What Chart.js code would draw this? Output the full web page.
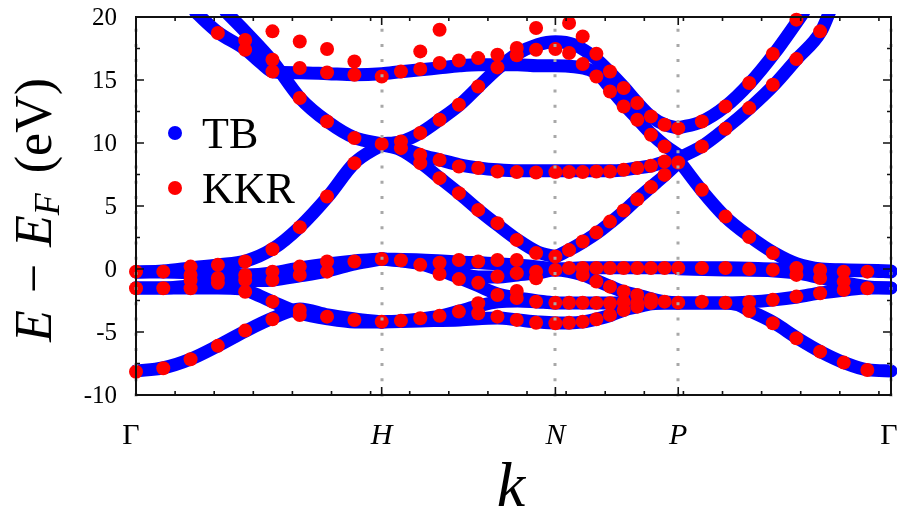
<!DOCTYPE html>
<html>
<head>
<meta charset="utf-8">
<script src="https://cdn.jsdelivr.net/npm/chart.js@4"></script>
<style>
  html, body { margin: 0; padding: 0; background: #fff; }
</style>
</head>
<body>
<canvas id="bands" width="898" height="517"></canvas>
<script>
// ── Path and axes ────────────────────────────────────────────────────────────
// k in units of 1/a along Γ–H–N–P–Γ of the bcc zone
const kPoints = [0, 3.1416, 5.3630, 6.9338, 9.6545];
const kLabels = ["Γ", "H", "N", "P", "Γ"];
const yTicks  = [-10, -5, 0, 5, 10, 15, 20];

// ── TB bands: [k, E] ─────────────────────────────────────────────────────────
// Γ–H
const tbGH1 = [[0,-8.09],[0.345,-7.85],[0.702,-7.14],[1.047,-6.10],[1.405,-4.91],[1.750,-3.89],[2.094,-3.17],[2.452,-3.65],[2.797,-3.96],[3.142,-4.20]];
const tbGH2 = [[0,-1.50],[0.345,-1.50],[0.702,-1.50],[1.047,-1.50],[1.328,-1.58],[1.584,-2.14],[1.750,-2.61],[2.094,-3.49],[2.452,-3.96],[2.797,-4.20],[3.142,-4.20]];
const tbGH3 = [[0,-0.23],[0.345,-0.23],[0.702,-0.31],[1.047,-0.47],[1.405,-0.47],[1.750,-0.31],[2.094,0.09],[2.452,0.41],[2.797,0.64],[3.142,0.80]];
const tbGH4 = [[0,-1.50],[0.345,-1.50],[0.702,-1.34],[1.047,-1.18],[1.405,-0.95],[1.750,-0.87],[2.094,-0.55],[2.452,-0.15],[2.797,0.41],[3.142,0.80]];
const tbGH5 = [[0,-0.23],[0.345,-0.15],[0.702,0.09],[1.047,0.33],[1.405,0.64],[1.750,1.60],[2.094,3.34],[2.452,5.73],[2.797,8.43],[3.142,9.86]];
const tbGH6 = [[1.15,20.4],[1.405,18.79],[1.750,16.45],[2.094,13.59],[2.452,11.68],[2.797,10.41],[3.142,9.94]];
// upper band, runs Γ–H–N–P
const tbTop1 = [[0.76,20.4],[1.047,18.79],[1.405,17.40],[1.609,16.29],[1.750,15.66],[2.094,15.58],[2.452,15.50],[2.797,15.42],[3.142,15.50],[3.384,15.66],[3.640,15.81],[3.882,15.97],[4.138,16.13],[4.380,16.21],[4.623,16.21],[4.879,16.21],[5.134,16.13],[5.363,16.13],[5.606,16.05],[5.798,15.81],[5.926,15.34],[6.079,14.23],[6.245,13.03],[6.411,11.92],[6.590,10.73],[6.769,9.78],[6.934,9.06]];
// H–N–P
const tbArch = [[3.142,9.94],[3.384,10.10],[3.640,10.81],[3.882,11.84],[4.138,13.03],[4.380,14.47],[4.623,15.89],[4.879,17.09],[5.134,17.80],[5.363,18.04],[5.606,17.80],[5.798,17.09],[5.926,16.45],[6.079,15.50],[6.245,14.39],[6.411,13.19],[6.590,12.08],[6.769,11.44],[6.934,11.20]];
const tbFlat = [[3.142,9.86],[3.384,9.62],[3.640,9.06],[3.882,8.67],[4.138,8.27],[4.380,8.03],[4.623,7.87],[4.879,7.79],[5.134,7.79],[5.363,7.79],[5.721,7.79],[6.079,7.79],[6.245,7.87],[6.411,8.03],[6.590,8.19],[6.769,8.51],[6.934,8.67]];
const tbHN1 = [[3.142,9.86],[3.384,9.46],[3.640,8.43],[3.882,7.24],[4.138,5.97],[4.380,4.69],[4.623,3.50],[4.879,2.31],[5.134,1.36],[5.363,0.96]];
const tbHN2 = [[3.142,0.80],[3.640,0.48],[3.882,0.09],[4.138,-0.31],[4.380,-0.63],[4.623,-0.63],[4.879,-0.47],[5.134,-0.31],[5.363,-0.07],[5.721,-0.47],[5.900,-0.95],[6.079,-1.42],[6.245,-1.82],[6.411,-2.06],[6.590,-2.37],[6.769,-2.61],[6.934,-2.69]];
const tbHN3 = [[3.142,0.80],[3.640,0.41],[3.882,-0.07],[4.138,-0.71],[4.380,-1.34],[4.623,-1.98],[4.879,-2.30],[5.134,-2.53],[5.363,-2.69]];
const tbHN4 = [[3.142,-4.20],[3.384,-4.12],[3.640,-3.96],[3.882,-3.73],[4.138,-3.33],[4.380,-2.93],[4.623,-2.61],[4.879,-2.53],[5.134,-2.61],[5.363,-2.69],[5.721,-2.69],[6.245,-2.69],[6.934,-2.69]];
const tbHN5 = [[3.142,-4.20],[3.640,-4.12],[4.138,-4.04],[4.623,-3.89],[4.879,-4.04],[5.134,-4.20],[5.363,-4.28],[5.543,-4.28],[5.721,-4.20],[5.900,-3.96],[6.079,-3.65],[6.245,-3.25],[6.411,-3.01],[6.590,-2.77],[6.769,-2.69],[6.934,-2.69]];
// flat band near E_F, H–N–P–Γ
const tbFermi = [[3.142,0.80],[3.640,0.72],[4.138,0.56],[4.623,0.41],[5.134,0.17],[5.363,0.01],[5.721,0.09],[6.245,0.09],[6.934,0.09],[7.535,0.09],[8.161,0.01],[8.761,-0.07],[9.361,-0.15],[9.654,-0.23]];
// N–P
const tbNP1 = [[5.363,0.96],[5.543,1.52],[5.721,2.15],[5.900,2.87],[6.079,3.74],[6.245,4.61],[6.411,5.57],[6.590,6.52],[6.769,7.48],[6.934,8.43]];
// P–Γ
const tbPG1 = [[6.934,11.20],[7.228,11.68],[7.535,12.88],[7.854,14.78],[8.161,17.09],[8.454,19.63],[8.54,20.4]];
const tbPG2 = [[6.934,8.80],[7.228,9.70],[7.535,11.13],[7.854,12.80],[8.161,14.62],[8.454,16.69],[8.761,18.87],[8.87,20.4]];
const tbPG3 = [[6.934,8.67],[7.228,6.28],[7.535,4.14],[7.854,2.55],[8.161,1.28],[8.454,0.41],[8.761,0.01],[9.118,-0.07],[9.654,-0.15]];
const tbPG4 = [[6.934,0.01],[7.535,-0.07],[8.161,-0.15],[8.454,-0.31],[8.761,-0.71],[9.067,-1.10],[9.361,-1.42],[9.654,-1.50]];
const tbPG5 = [[6.934,-2.69],[7.535,-2.69],[7.854,-2.61],[8.161,-2.45],[8.454,-2.22],[8.761,-1.90],[9.067,-1.66],[9.361,-1.50],[9.654,-1.50]];
const tbPG6 = [[6.934,-2.69],[7.535,-2.69],[7.701,-2.85],[7.854,-3.33],[8.161,-4.28],[8.454,-5.47],[8.761,-6.58],[9.067,-7.46],[9.361,-8.01],[9.654,-8.09]];

const tbBands = [tbGH1, tbGH2, tbGH3, tbGH4, tbGH5, tbGH6, tbTop1, tbArch, tbFlat,
                 tbHN1, tbHN2, tbHN3, tbHN4, tbHN5, tbFermi, tbNP1,
                 tbPG1, tbPG2, tbPG3, tbPG4, tbPG5, tbPG6];

// ── KKR eigenvalues: one k list and one energy list per k ────────────────────
const kkrK_GH = [0, 0.349, 0.698, 1.047, 1.396, 1.745, 2.094, 2.443, 2.793, 3.142];
const kkrE_GH = [
  [-0.21, -1.53, -8.15],
  [-0.21, -1.53, -7.88],
  [0.19, -0.47, -0.87, -1.53, -7.16],
  [18.73, 0.33, -0.71, -1.10, -6.10],
  [18.18, 17.40, 0.59, -0.47, -0.87, -1.80, -4.89],
  [18.86, 16.61, 15.68, 1.57, -0.21, -0.87, -2.59, -3.99],
  [18.06, 15.95, 13.57, 3.32, 0.19, -0.47, -3.25, -3.65],
  [17.46, 15.60, 11.71, 5.75, 0.59, -0.21, -3.78],
  [16.47, 15.42, 10.39, 8.40, 0.59, -4.05],
  [15.28, 9.93, 0.79, -4.18],
];
const kkrK_HN = [3.388, 3.635, 3.882, 4.129, 4.376, 4.622, 4.869, 5.116, 5.363];
const kkrE_HN = [
  [15.68, 10.12, 9.59, 0.70, -4.10],
  [17.27, 15.87, 10.79, 9.06, 8.40, 0.33, -3.91],
  [18.99, 16.35, 11.84, 8.66, 7.21, 0.50, -0.40, -3.72],
  [16.55, 13.03, 8.13, 6.02, 0.72, -0.80, -3.38],
  [16.74, 14.49, 8.01, 4.69, 0.59, -1.10, -2.72, -3.51],
  [17.00, 16.00, 7.74, 3.64, 0.72, -0.60, -2.06, -3.78],
  [17.54, 16.97, 7.69, 2.31, 0.72, -0.33, -1.74, -2.30, -4.04],
  [19.13, 17.40, 7.66, 1.26, -0.21, -0.73, -2.59, -4.26],
  [17.46, 7.69, 0.99, -0.07, -2.68, -4.30],
];
const kkrK_NP = [5.538, 5.712, 5.887, 6.061, 6.236, 6.410, 6.585, 6.759, 6.934];
const kkrE_NP = [
  [19.52, 17.14, 7.69, 1.50, 0.07, -2.68, -4.26],
  [18.46, 16.27, 7.69, 2.18, 0.07, -0.47, -2.68, -4.18],
  [17.08, 15.28, 7.74, 2.89, 0.07, -1.00, -2.69, -3.99],
  [15.68, 14.09, 7.74, 3.76, 0.07, -1.40, -2.72, -3.65],
  [14.36, 12.90, 7.87, 4.64, 0.07, -1.79, -2.61, -3.25],
  [13.17, 11.84, 8.01, 5.54, 0.07, -2.06, -2.69, -2.99],
  [12.11, 10.65, 8.19, 6.50, 0.07, -2.40, -2.69],
  [11.45, 9.72, 8.53, 7.47, 0.07, -2.59],
  [11.18, 8.45, 0.07, -2.67],
];
const kkrK_PG = [7.236, 7.538, 7.841, 8.143, 8.445, 8.748, 9.050, 9.352];
const kkrE_PG = [
  [11.71, 9.72, 6.28, 0.07, -2.59],
  [12.90, 11.13, 4.16, 0.07, -2.67],
  [14.76, 12.77, 2.53, 0.00, -2.61, -3.33],
  [17.06, 14.62, 1.26, -0.07, -2.45, -4.31],
  [19.79, 16.66, 0.07, -0.47, -2.19, -5.50],
  [18.86, -0.07, -0.71, -1.92, -6.56],
  [-0.21, -1.00, -1.66, -7.43],
  [-0.21, -1.53, -8.01],
];

// ── Styling ──────────────────────────────────────────────────────────────────
const BLUE = "#0000ff";
const RED  = "#ff0000";
const SERIF = '"Liberation Serif", "DejaVu Serif", serif';

// flatten the KKR columns into scatter points
function kkrPoints(ks, es) {
    const pts = [];
    ks.forEach((k, i) => es[i].forEach(e => pts.push({ x: k, y: e })));
    return pts;
}
const kkrData = [
    ...kkrPoints(kkrK_GH, kkrE_GH),
    ...kkrPoints(kkrK_HN, kkrE_HN),
    ...kkrPoints(kkrK_NP, kkrE_NP),
    ...kkrPoints(kkrK_PG, kkrE_PG),
];

const datasets = [{
    label: "KKR",
    data: kkrData,
    showLine: false,
    pointRadius: 7,
    pointBackgroundColor: RED,
    pointBorderWidth: 0,
    order: 0,
    clip: false,
}];
tbBands.forEach(b => datasets.push({
    label: "TB",
    data: b.map(([k, e]) => ({ x: k, y: e })),
    showLine: true,
    pointRadius: 0,
    borderColor: BLUE,
    borderWidth: 13,
    borderCapStyle: "round",
    borderJoinStyle: "round",
    cubicInterpolationMode: "monotone",
    order: 1,
    clip: { left: 4, right: 6, top: 3, bottom: 3 },
}));

// ── Axes, frame, labels (drawn by hand) ──────────────────────────────────────
const decor = {
    id: "decor",
    beforeDraw(chart) {
        const ctx = chart.ctx;
        ctx.save();
        ctx.fillStyle = "#fff";
        ctx.fillRect(0, 0, chart.width, chart.height);
        ctx.restore();
    },
    afterDatasetsDraw(chart) {
        const { ctx, chartArea: a, scales: { x, y } } = chart;
        ctx.save();

        // dotted guides at the symmetry points
        ctx.strokeStyle = "#a8a8a8";
        ctx.lineWidth = 3;
        ctx.setLineDash([3, 12.2]);
        kPoints.forEach(k => {
            const px = Math.round(x.getPixelForValue(k));
            ctx.beginPath();
            ctx.moveTo(px, a.bottom + 1.5);
            ctx.lineTo(px, a.top);
            ctx.stroke();
        });
        ctx.setLineDash([]);

        // frame
        ctx.strokeStyle = "#111";
        ctx.lineWidth = 2;
        ctx.strokeRect(a.left, a.top, a.right - a.left, a.bottom - a.top);

        // ticks, inward on all four sides
        ctx.lineWidth = 1.6;
        ctx.beginPath();
        for (let k = 0.5; k < 9.6; k += 0.5) {
            const px = x.getPixelForValue(k);
            ctx.moveTo(px, a.bottom); ctx.lineTo(px, a.bottom - 4);
            ctx.moveTo(px, a.top);    ctx.lineTo(px, a.top + 4);
        }
        kPoints.slice(1, -1).forEach(k => {
            const px = x.getPixelForValue(k);
            ctx.moveTo(px, a.bottom); ctx.lineTo(px, a.bottom - 8);
            ctx.moveTo(px, a.top);    ctx.lineTo(px, a.top + 8);
        });
        for (let e = -7.5; e < 20; e += 2.5) {
            const py = y.getPixelForValue(e);
            const len = (e % 5 === 0) ? 8 : 4;
            ctx.moveTo(a.left, py);  ctx.lineTo(a.left + len, py);
            ctx.moveTo(a.right, py); ctx.lineTo(a.right - len, py);
        }
        ctx.stroke();
        ctx.restore();
    },
    afterDraw(chart) {
        const { ctx, chartArea: a, scales: { x, y } } = chart;
        ctx.save();
        ctx.fillStyle = "#000";

        // energy tick labels
        ctx.font = `25px ${SERIF}`;
        ctx.textAlign = "right";
        ctx.textBaseline = "middle";
        yTicks.forEach(v => ctx.fillText(String(v), 117, y.getPixelForValue(v) + 1));

        // symmetry point labels
        ctx.textAlign = "center";
        ctx.textBaseline = "alphabetic";
        kPoints.forEach((k, i) => {
            const upright = kLabels[i] === "Γ";
            ctx.font = `${upright ? "" : "italic "}30px ${SERIF}`;
            let px = x.getPixelForValue(k);
            if (i === 0) px -= 5;
            if (i === kPoints.length - 1) px -= 2;
            ctx.fillText(kLabels[i], px, 444);
        });

        // x title
        ctx.font = `italic 64px ${SERIF}`;
        ctx.fillText("k", 511, 506);

        // y title, rotated: E − E_F (eV)
        ctx.save();
        ctx.translate(51, 210);
        ctx.rotate(-Math.PI / 2);
        ctx.textAlign = "left";
        const big = 52, sub = 36;
        const parts = [
            { t: "E",    f: `italic ${big}px ${SERIF}`, dy: 0,  gap: 17 },
            { t: "−",    f: `${big}px ${SERIF}`,        dy: 0,  gap: 17 },
            { t: "E",    f: `italic ${big}px ${SERIF}`, dy: 0,  gap: 0 },
            { t: "F",    f: `italic ${sub}px ${SERIF}`, dy: 8,  gap: 20 },
            { t: "(eV)", f: `${big}px ${SERIF}`,        dy: 0,  gap: 0 },
        ];
        let total = 0;
        parts.forEach(p => { ctx.font = p.f; p.w = ctx.measureText(p.t).width; total += p.w + p.gap; });
        let cx = -total / 2;
        parts.forEach(p => { ctx.font = p.f; ctx.fillText(p.t, cx, p.dy); cx += p.w + p.gap; });
        ctx.restore();

        // legend
        const legend = [["TB", BLUE, 133], ["KKR", RED, 188]];
        ctx.font = `44px ${SERIF}`;
        ctx.textAlign = "left";
        legend.forEach(([name, col, cy]) => {
            ctx.fillStyle = col;
            ctx.beginPath();
            ctx.arc(175, cy, 7, 0, Math.PI * 2);
            ctx.fill();
            ctx.fillStyle = "#000";
            ctx.fillText(name, 202, cy + 14.5);
        });
        ctx.restore();
    },
};

// ── Chart ────────────────────────────────────────────────────────────────────
new Chart(document.getElementById("bands"), {
    type: "scatter",
    data: { datasets },
    options: {
        responsive: false,
        animation: false,
        events: [],
        layout: { padding: { left: 136, top: 17, right: 6, bottom: 122 } },
        plugins: { legend: { display: false }, tooltip: { enabled: false } },
        scales: {
            x: { type: "linear", min: 0, max: 9.6545, display: false },
            y: { type: "linear", min: -10, max: 20, display: false },
        },
    },
    plugins: [decor],
});
</script>
</body>
</html>
